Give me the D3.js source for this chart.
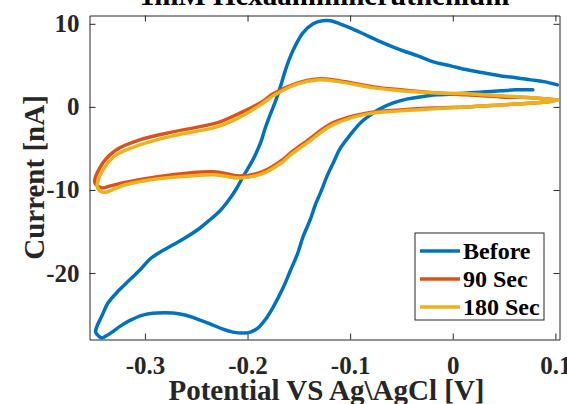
<!DOCTYPE html>
<meta charset="utf-8">
<style>

body {
  margin: 0;
  background: #fff;
  font-family: "Liberation Serif", "Times New Roman", serif;
  font-weight: bold;
}

.line {
  fill: none;
  stroke-width: 3.5px;
  stroke-linejoin: round;
  stroke-linecap: round;
}

</style>
<body>
<script src="https://d3js.org/d3.v7.js"></script>
<script>

// potential [V], current [nA], in scan order
var before = [
  [0.102, 2.65], [0.090, 3.01], [0.076, 3.25], [0.063, 3.49], [0.047, 3.73], [0.030, 4.10],
  [0.014, 4.46], [-0.002, 4.94], [-0.019, 5.42], [-0.034, 6.14], [-0.051, 6.87], [-0.068, 7.71],
  [-0.083, 8.55], [-0.100, 9.52], [-0.110, 10.0], [-0.119, 10.36], [-0.127, 10.36], [-0.136, 10.0],
  [-0.146, 8.92], [-0.153, 7.47], [-0.158, 6.14], [-0.163, 4.46], [-0.168, 2.41], [-0.173, 0.6],
  [-0.178, -0.96], [-0.183, -2.65], [-0.187, -4.22], [-0.192, -5.66], [-0.197, -6.87], [-0.204, -8.31],
  [-0.211, -9.88], [-0.219, -11.33], [-0.227, -12.53], [-0.238, -13.73], [-0.249, -14.82], [-0.261, -15.78],
  [-0.273, -16.63], [-0.285, -17.47], [-0.295, -18.31], [-0.304, -19.52], [-0.314, -20.72], [-0.326, -22.17],
  [-0.336, -23.61], [-0.342, -25.18], [-0.347, -26.51], [-0.348, -27.11], [-0.345, -27.59], [-0.342, -27.83],
  [-0.338, -27.59], [-0.332, -27.11], [-0.324, -26.39], [-0.314, -25.66], [-0.302, -25.06], [-0.288, -24.82],
  [-0.273, -24.82], [-0.261, -25.06], [-0.249, -25.54], [-0.236, -26.14], [-0.224, -26.75], [-0.214, -27.11],
  [-0.205, -27.23], [-0.197, -27.11], [-0.190, -26.63], [-0.183, -25.66], [-0.175, -24.09], [-0.165, -21.69],
  [-0.158, -19.64], [-0.151, -17.59], [-0.146, -15.66], [-0.139, -13.61], [-0.134, -11.81], [-0.129, -10.36],
  [-0.122, -8.19], [-0.116, -6.63], [-0.110, -5.06], [-0.100, -3.37], [-0.090, -1.93], [-0.080, -0.96],
  [-0.071, -0.24], [-0.058, 0.48], [-0.044, 0.96], [-0.032, 1.2], [-0.015, 1.45], [0.003, 1.57],
  [0.017, 1.69], [0.032, 1.81], [0.047, 1.93], [0.061, 2.05], [0.078, 2.05]
];

var sec90 = [
  [0.102, 0.84], [0.079, 1.08], [0.047, 1.20], [0.014, 1.45], [-0.019, 1.69], [-0.051, 2.05],
  [-0.077, 2.41], [-0.110, 3.13], [-0.132, 3.37], [-0.151, 2.89], [-0.175, 1.57], [-0.186, 0.60],
  [-0.207, -0.72], [-0.230, -1.93], [-0.273, -3.01], [-0.305, -3.98], [-0.328, -5.18], [-0.341, -6.75],
  [-0.349, -9.04], [-0.346, -9.52], [-0.341, -9.76], [-0.334, -9.52], [-0.322, -9.16], [-0.289, -8.43],
  [-0.257, -7.95], [-0.230, -7.83], [-0.208, -8.31], [-0.186, -7.83], [-0.166, -6.39], [-0.158, -5.54],
  [-0.142, -4.10], [-0.117, -1.93], [-0.083, -0.72], [-0.051, -0.36], [-0.019, -0.12], [0.014, 0],
  [0.047, 0.24], [0.079, 0.48], [0.098, 0.72], [0.102, 0.84]
];

var sec180 = [
  [0.102, 0.84], [0.079, 1.08], [0.047, 1.33], [0.014, 1.57], [-0.019, 1.69], [-0.051, 1.93],
  [-0.077, 2.29], [-0.110, 3.01], [-0.132, 3.25], [-0.151, 2.77], [-0.175, 1.33], [-0.186, 0.36],
  [-0.207, -1.2], [-0.230, -2.41], [-0.273, -3.49], [-0.305, -4.58], [-0.328, -5.78], [-0.339, -7.23],
  [-0.346, -9.04], [-0.346, -9.76], [-0.342, -10.24], [-0.337, -10.24], [-0.330, -9.88], [-0.320, -9.40],
  [-0.289, -8.67], [-0.257, -8.31], [-0.230, -8.19], [-0.208, -8.55], [-0.186, -8.07], [-0.166, -6.63],
  [-0.158, -5.78], [-0.142, -4.34], [-0.117, -2.17], [-0.083, -0.84], [-0.051, -0.48], [-0.019, -0.24],
  [0.014, 0], [0.047, 0.24], [0.079, 0.48], [0.098, 0.72], [0.102, 0.84]
];

var seriesNames = ["Before", "90 Sec", "180 Sec"];
var seriesColors = ["#0072BD", "#D95319", "#EDB120"];
var xTicks = [-0.3, -0.2, -0.1, 0, 0.1];
var yTicks = [-20, -10, 0, 10];
var titleText = "1mM Hexaammineruthenium";
var xLabel = "Potential VS Ag\\AgCl [V]";
var yLabel = "Current [nA]";

var width = 567;
var height = 404;

var margin = {top: 15.5, right: 7.5, bottom: 64.5, left: 89.5};

var innerWidth = width - margin.left - margin.right;
var innerHeight = height - margin.top - margin.bottom;

var xScale = d3.scaleLinear()
    .domain([-0.354, 0.104])
    .range([0, innerWidth]);

var yScale = d3.scaleLinear()
    .domain([-28, 11])
    .range([innerHeight, 0]);

var line = d3.line()
    .x(d => xScale(d[0]))
    .y(d => yScale(d[1]))
    .curve(d3.curveCatmullRom.alpha(0.5));

var svg = d3.select("body").append("svg")
    .attr("width", width)
    .attr("height", height)
  .append("g")
    .attr("transform", `translate(${margin.left}, ${margin.top})`);

svg.append("clipPath")
    .attr("id", "clip")
  .append("rect")
    .attr("width", innerWidth)
    .attr("height", innerHeight);

// axes, ticks inward, box on
var axisColor = "#262626";

// plain hyphen for negatives, like the original figure
var hyphen = f => (d => f(d).replace("\u2212", "-"));

var xAxis = d3.axisBottom(xScale)
    .tickValues(xTicks)
    .tickSizeInner(-6)
    .tickSizeOuter(0)
    .tickPadding(17)
    .tickFormat(hyphen(d => d === 0 ? "0" : d3.format(".1f")(d)));

var yAxis = d3.axisLeft(yScale)
    .tickValues(yTicks)
    .tickSizeInner(-6)
    .tickSizeOuter(0)
    .tickPadding(10)
    .tickFormat(hyphen(d3.format("d")));

var gx = svg.append("g")
    .attr("transform", `translate(0, ${innerHeight})`)
    .call(xAxis);

var gy = svg.append("g")
    .call(yAxis);

svg.append("g")
    .call(d3.axisTop(xScale).tickValues(xTicks).tickSizeInner(-6).tickSizeOuter(0).tickFormat(""));

svg.append("g")
    .attr("transform", `translate(${innerWidth}, 0)`)
    .call(d3.axisRight(yScale).tickValues(yTicks).tickSizeInner(-6).tickSizeOuter(0).tickFormat(""));

svg.selectAll(".domain, .tick line")
    .attr("stroke", axisColor);

svg.selectAll(".tick text")
    .attr("fill", axisColor)
    .style("font-family", "Liberation Serif, serif")
    .style("font-weight", "bold")
    .style("font-size", "25px");

// curves
var series = [before, sec90, sec180];

svg.append("g")
    .attr("clip-path", "url(#clip)")
  .selectAll("path")
    .data(series)
  .enter().append("path")
    .attr("class", "line")
    .attr("d", d => line(d))
    .style("stroke", (d, i) => seriesColors[i]);

// labels
svg.append("text")
    .attr("x", innerWidth / 2)
    .attr("y", -10.5)
    .attr("text-anchor", "middle")
    .attr("fill", "#000")
    .style("font-size", "29px")
    .text(titleText);

svg.append("text")
    .attr("x", innerWidth / 2 + 2)
    .attr("y", innerHeight + 60)
    .attr("text-anchor", "middle")
    .attr("fill", axisColor)
    .style("font-size", "29px")
    .text(xLabel);

svg.append("text")
    .attr("transform", `translate(-46, ${innerHeight / 2}) rotate(-90)`)
    .attr("text-anchor", "middle")
    .attr("fill", axisColor)
    .style("font-size", "29px")
    .text(yLabel);

// legend
var legend = svg.append("g")
    .attr("transform", `translate(${415 - margin.left}, ${233 - margin.top})`);

legend.append("rect")
    .attr("width", 129)
    .attr("height", 87)
    .attr("fill", "#fff")
    .attr("stroke", axisColor)
    .attr("stroke-width", 1);

var item = legend.selectAll(".item")
    .data(seriesNames)
  .enter().append("g")
    .attr("class", "item")
    .attr("transform", (d, i) => `translate(0, ${18 + i * 28})`);

item.append("line")
    .attr("x1", 5)
    .attr("x2", 45)
    .attr("stroke-width", 3.5)
    .attr("stroke", (d, i) => seriesColors[i]);

item.append("text")
    .attr("x", 48)
    .attr("dy", "0.33em")
    .attr("fill", "#000")
    .style("font-size", "24px")
    .text(d => d);

</script>
